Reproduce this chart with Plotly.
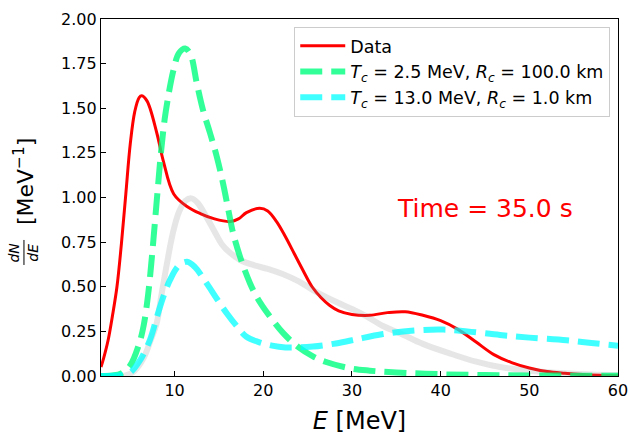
import plotly.graph_objects as go

# ---- data ----
data_E = [1.7, 2.0, 2.5, 3.0, 3.5, 4.0, 4.5, 5.0, 5.5, 6.0, 6.3, 6.9, 8.0, 8.7, 9.9, 11.4,
          12.9, 14.5, 16.3, 17.2, 18.1, 19.6, 20.5, 21.5, 22.5, 23.5, 24.5, 25.5, 26.5,
          27.5, 28.5, 30.0, 32.0, 34.0, 36.0, 38.0, 40.0, 42.0, 44.0, 46.0, 48.0,
          50.0, 52.0, 54.0, 56.0, 58.0, 60.0]
data_y = [0.05, 0.10, 0.20, 0.34, 0.50, 0.74, 1.02, 1.30, 1.48, 1.56, 1.57, 1.54, 1.36, 1.21,
          1.02, 0.95, 0.91, 0.88, 0.865, 0.88, 0.915, 0.94, 0.925, 0.865, 0.78, 0.685, 0.59,
          0.50, 0.44, 0.395, 0.365, 0.345, 0.34, 0.355, 0.36, 0.34, 0.31, 0.26, 0.19,
          0.12, 0.075, 0.045, 0.025, 0.015, 0.008, 0.004, 0.002]

g_E = [1.7, 3.0, 4.0, 5.0, 6.0, 6.5, 7.0, 7.5, 8.0, 8.5, 9.0, 9.9, 10.5, 11.2, 11.8, 12.5,
       13.2, 14.0, 14.75, 15.5, 16.1, 16.6, 17.5, 18.5, 19.3, 20.5, 22.25, 24.0, 25.6,
       27.0, 29.8, 32.0, 35.0, 40.0, 45.0, 50.0, 60.0]
g_y = [0.0, 0.003, 0.015, 0.06, 0.18, 0.28, 0.45, 0.70, 0.99, 1.27, 1.48, 1.72, 1.81, 1.835,
       1.80, 1.64, 1.49, 1.36, 1.23, 1.07, 0.92, 0.80, 0.65, 0.52, 0.44, 0.35, 0.24, 0.16,
       0.11, 0.08, 0.043, 0.03, 0.02, 0.01, 0.005, 0.003, 0.001]

c_E = [1.7, 3.0, 4.0, 5.0, 6.0, 7.2, 8.0, 8.7, 9.5, 10.5, 11.4, 12.3, 13.6, 14.8, 15.9, 17.0,
       18.1, 19.5, 21.0, 22.5, 24.0, 25.6, 27.9, 30.0, 33.5, 37.0, 40.3, 43.0, 46.7, 50.0,
       54.2, 57.0, 60.0]
c_y = [0.0, 0.001, 0.005, 0.02, 0.08, 0.20, 0.33, 0.44, 0.54, 0.62, 0.64, 0.61, 0.52, 0.43,
       0.35, 0.28, 0.22, 0.19, 0.17, 0.16, 0.16, 0.165, 0.18, 0.20, 0.235, 0.255, 0.26, 0.25,
       0.23, 0.215, 0.20, 0.185, 0.17]

grey_E = [1.7, 4.0, 4.6, 5.5, 6.5, 7.3, 8.0, 8.5, 9.1, 9.8, 10.5, 11.2, 11.9, 12.6, 13.6,
          14.5, 15.3, 16.25, 17.4, 19.0, 20.5, 22.25, 24.0, 26.0, 28.0, 30.0, 31.6, 33.5,
          35.4, 38.0, 41.0, 44.0, 46.7, 50.0, 54.0, 57.0, 60.0]
grey_y = [0.0, 0.0, 0.005, 0.03, 0.10, 0.20, 0.30, 0.45, 0.62, 0.80, 0.92, 0.98, 0.995, 0.97,
          0.89, 0.81, 0.74, 0.69, 0.65, 0.62, 0.60, 0.57, 0.53, 0.47, 0.42, 0.375, 0.335,
          0.28, 0.24, 0.18, 0.127, 0.08, 0.05, 0.03, 0.015, 0.008, 0.005]

names = ["Data",
         "<i>T</i><sub><i>c</i></sub> = 2.5 MeV, <i>R</i><sub><i>c</i></sub> = 100.0 km",
         "<i>T</i><sub><i>c</i></sub> = 13.0 MeV, <i>R</i><sub><i>c</i></sub> = 1.0 km"]
x_ticks = [10, 20, 30, 40, 50, 60]
y_ticks = [0.0, 0.25, 0.5, 0.75, 1.0, 1.25, 1.5, 1.75, 2.0]
y_ticklabels = ["0.00", "0.25", "0.50", "0.75", "1.00", "1.25", "1.50", "1.75", "2.00"]

FONT = "DejaVu Sans"

fig = go.Figure()
fig.add_trace(go.Scatter(x=data_E, y=data_y, mode="lines", name=names[0],
                         line=dict(color="#ff0000", width=3, shape="spline", smoothing=1)))
fig.add_trace(go.Scatter(x=grey_E, y=grey_y, mode="lines", showlegend=False,
                         line=dict(color="rgba(128,128,128,0.2)", width=6, shape="spline", smoothing=1)))
fig.add_trace(go.Scatter(x=g_E, y=g_y, mode="lines", name=names[1],
                         line=dict(color="rgba(0,255,127,0.8)", width=6, dash="22px,9px",
                                   shape="spline", smoothing=1)))
fig.add_trace(go.Scatter(x=c_E, y=c_y, mode="lines", name=names[2],
                         line=dict(color="rgba(0,255,255,0.75)", width=6, dash="22px,9px",
                                   shape="spline", smoothing=1)))

fig.add_annotation(x=45, y=0.94, xref="x", yref="y", text="Time = 35.0 s", showarrow=False,
                   xanchor="center", yanchor="middle",
                   font=dict(family=FONT, size=25, color="#ff0000"))

# y-axis title built from pieces (fraction dN/dE + [MeV^-1])
fig.add_annotation(x=-0.149, y=0.546, xref="paper", yref="paper", xanchor="center",
                   yanchor="middle", text="[MeV<sup>−1</sup>]", textangle=-90, showarrow=False,
                   font=dict(family=FONT, size=22, color="black"))
fig.add_annotation(x=-0.168, y=0.346, xref="paper", yref="paper", xanchor="center",
                   yanchor="middle", text="<i>dN</i>", textangle=-90, showarrow=False,
                   font=dict(family=FONT, size=14, color="black"))
fig.add_annotation(x=-0.131, y=0.346, xref="paper", yref="paper", xanchor="center",
                   yanchor="middle", text="<i>dE</i>", textangle=-90, showarrow=False,
                   font=dict(family=FONT, size=14, color="black"))
fig.add_shape(type="line", xref="paper", yref="paper", x0=-0.149, x1=-0.149,
              y0=0.311, y1=0.381, line=dict(color="black", width=1))

fig.update_layout(
    width=629, height=436,
    margin=dict(l=101, r=11, t=19, b=60, autoexpand=False),
    paper_bgcolor="white", plot_bgcolor="white",
    font=dict(family=FONT, size=16, color="black"),
    showlegend=True,
    legend=dict(x=0.985, y=0.978, xanchor="right", yanchor="top",
                bgcolor="rgba(255,255,255,0.8)", bordercolor="#cccccc", borderwidth=1,
                font=dict(family=FONT, size=17.5), itemwidth=45, tracegroupgap=0),
    xaxis=dict(range=[1.7, 60], tickvals=x_ticks, ticks="inside", ticklen=5, tickwidth=1,
               tickcolor="black", showline=True, linecolor="black", linewidth=1.3,
               mirror=True, showgrid=False, zeroline=False, automargin=False,
               title=dict(text="<i>E</i> [MeV]", font=dict(family=FONT, size=24), standoff=12),
               tickfont=dict(size=16)),
    yaxis=dict(range=[0, 2.0], tickvals=y_ticks, ticktext=y_ticklabels, ticks="inside",
               ticklen=5, tickwidth=1, tickcolor="black", showline=True, linecolor="black",
               linewidth=1.3, mirror=True, showgrid=False, zeroline=False, automargin=False,
               tickfont=dict(size=16)),
)

fig.write_html("out.html")
